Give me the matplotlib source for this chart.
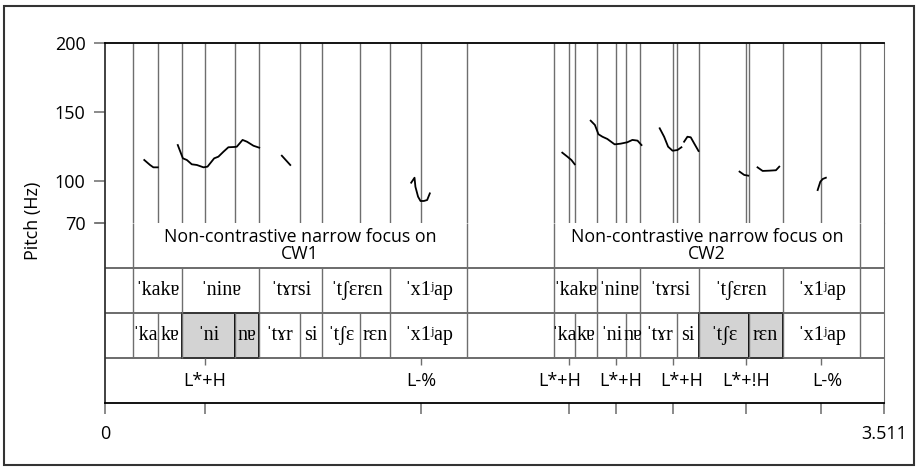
import matplotlib
matplotlib.use("Agg")
import matplotlib.pyplot as plt
from matplotlib.patches import Rectangle

# total duration (s)
T_END = 3.511

# pitch track segments: time (s) and F0 (Hz)
pitch_t = [
    [0.177, 0.203, 0.218, 0.238],
    [0.328, 0.351, 0.369, 0.391, 0.414, 0.444, 0.462, 0.492, 0.511, 0.534,
     0.556, 0.582, 0.594, 0.620, 0.640, 0.669, 0.695],
    [0.797, 0.835],
    [1.380, 1.395, 1.399, 1.411, 1.422, 1.437, 1.452, 1.464],
    [2.061, 2.084, 2.102, 2.117],
    [2.189, 2.208, 2.224, 2.242, 2.264, 2.297, 2.324, 2.354, 2.377, 2.400, 2.418],
    [2.500, 2.520, 2.538, 2.558, 2.580, 2.598],
    [2.610, 2.625, 2.640, 2.655, 2.675],
    [2.860, 2.881, 2.899],
    [2.941, 2.964, 2.994, 3.024, 3.039],
    [3.212, 3.224, 3.235, 3.249],
]
pitch_hz = [
    [115.5, 111.9, 110.2, 110.2],
    [126.3, 116.7, 115.5, 112.4, 111.9, 110.2, 110.7, 116.7, 117.9, 121.5,
     124.7, 124.9, 125.1, 130.0, 128.7, 125.8, 124.4],
    [118.6, 111.9],
    [99.1, 102.7, 96.2, 89.0, 85.9, 85.9, 86.6, 91.4],
    [120.8, 117.9, 115.5, 112.4],
    [143.9, 140.8, 134.1, 132.3, 130.7, 126.8, 127.3, 128.3, 130.0, 129.5, 126.3],
    [138.4, 132.3, 125.1, 122.2, 122.7, 124.7],
    [128.7, 132.3, 131.9, 127.6, 122.0],
    [107.1, 104.7, 104.2],
    [110.2, 107.6, 107.8, 108.1, 110.7],
    [93.8, 99.8, 101.8, 102.7],
]

# interval tiers
focus_bounds = [0, 0.126, 1.631, 2.023, 3.404, T_END]
focus_labels = ["", "Non-contrastive narrow focus on\nCW1", "",
                "Non-contrastive narrow focus on\nCW2", ""]

word_bounds = [0, 0.126, 0.346, 0.695, 0.978, 1.286, 1.631,
               2.023, 2.219, 2.411, 2.678, 3.054, 3.404, T_END]
word_labels = ["", "ˈkakɐ", "ˈninɐ", "ˈtɤrsi", "ˈtʃɛrɛn", "ˈx1ʲap", "",
               "ˈkakɐ", "ˈninɐ", "ˈtɤrsi", "ˈtʃɛrɛn", "ˈx1ʲap", ""]

syll_bounds = [0, 0.126, 0.238, 0.346, 0.584, 0.695, 0.877, 0.978, 1.148, 1.286, 1.631,
               2.023, 2.117, 2.219, 2.350, 2.411, 2.580, 2.678, 2.901, 3.054, 3.404, T_END]
syll_labels = ["", "ˈka", "kɐ", "ˈni", "nɐ", "ˈtɤr", "si", "ˈtʃɛ", "rɛn", "ˈx1ʲap", "",
               "ˈka", "kɐ", "ˈni", "nɐ", "ˈtɤr", "si", "ˈtʃɛ", "rɛn", "ˈx1ʲap", ""]
focus_sylls = [3, 4, 17, 18]

# point tier
tone_times = [0.451, 1.426, 2.091, 2.302, 2.562, 2.891, 3.227]
tone_labels = ["L*+H", "L-%", "L*+H", "L*+H", "L*+H", "L*+!H", "L-%"]

SANS = ["Open Sans", "DejaVu Sans"]
SERIF = ["Liberation Serif", "DejaVu Serif"]
GRID = "#6e6e6e"

W, H = 917, 468
fig = plt.figure(figsize=(W / 100, H / 100), dpi=100)


def box(x0, y0, x1, y1):
    return [x0 / W, 1 - y1 / H, (x1 - x0) / W, (y1 - y0) / H]


# outer frame
fig.patches.append(Rectangle((3.5 / W, 1 - 465 / H), 910 / W, 459 / H,
                             transform=fig.transFigure, fill=False,
                             ec="#333333", lw=1.5))

ax_p = fig.add_axes(box(105, 43, 884, 223))
ax_t = fig.add_axes(box(105, 223, 884, 403))

# --- pitch panel ---
ax_p.set_xlim(0, T_END)
ax_p.set_ylim(70, 200)
all_lines = sorted(set(focus_bounds[1:-1] + word_bounds[1:-1] +
                       syll_bounds[1:-1] + tone_times))
ax_p.vlines(all_lines, 70, 200, color=GRID, lw=1.0)
for t, f in zip(pitch_t, pitch_hz):
    ax_p.plot(t, f, color="black", lw=1.3)

ax_p.set_xticks([])
ax_p.set_yticks([70, 100, 150, 200])
ax_p.set_yticklabels(["70", "100", "150", "200"], family=SANS, fontsize=13)
ax_p.tick_params(axis="y", direction="out", length=8, width=1.2,
                 color="#777777", pad=6)
ax_p.spines["bottom"].set_visible(False)
ax_p.spines["left"].set_color("#333333")
ax_p.spines["left"].set_linewidth(1.3)
ax_p.spines["top"].set_color("black")
ax_p.spines["top"].set_linewidth(1.3)
ax_p.spines["right"].set_color(GRID)

# --- tier panel: rows from top: focus (3-4), words (2-3), syllables (1-2), tones (0-1) ---
ax_t.set_xlim(0, T_END)
ax_t.set_ylim(0, 4)
ax_t.hlines([1, 2, 3], 0, T_END, color="#444444", lw=1.1)
ax_t.plot([-0.04, 0], [4, 4], color="#777777", lw=1.2, clip_on=False)


def draw_tier(bounds, labels, y0, **kw):
    ax_t.vlines(bounds[1:-1], y0, y0 + 1, color=GRID, lw=1.0)
    for a, b, lab in zip(bounds[:-1], bounds[1:], labels):
        if lab:
            ax_t.text((a + b) / 2, y0 + 0.5, lab, ha="center", va="center", **kw)


# shaded focus syllables
for i in focus_sylls:
    a, b = syll_bounds[i], syll_bounds[i + 1]
    ax_t.add_patch(Rectangle((a, 1), b - a, 1, fc="#d3d3d3", ec="black",
                             lw=1.3, zorder=0.5))

draw_tier(focus_bounds, focus_labels, 3, family=SANS, fontsize=12.8,
          linespacing=0.95)
draw_tier(word_bounds, word_labels, 2, family=SERIF, fontsize=14.5)
draw_tier(syll_bounds, syll_labels, 1, family=SERIF, fontsize=14.5)

# tone labels, a few nudged sideways so they do not collide
tone_nudge = [0, 0, -0.043, 0.022, 0.036, 0, 0.027]
ax_t.vlines(tone_times, 1 - 7 / 45, 1, color=GRID, lw=1.0)
for t, lab, dx in zip(tone_times, tone_labels, tone_nudge):
    ax_t.text(t + dx, 0.5, lab, ha="center", va="center", family=SANS,
              fontsize=13)

ax_t.set_yticks([])
xt = [0] + tone_times + [T_END]
ax_t.set_xticks(xt)
ax_t.set_xticklabels(["0"] + [""] * len(tone_times) + ["3.511"],
                     family=SANS, fontsize=13)
ax_t.tick_params(axis="x", direction="out", length=8, width=1.2,
                 color="#777777", pad=8)
ax_t.spines["top"].set_visible(False)
ax_t.spines["left"].set_color("#333333")
ax_t.spines["left"].set_linewidth(1.3)
ax_t.spines["bottom"].set_color("black")
ax_t.spines["bottom"].set_linewidth(1.3)
ax_t.spines["right"].set_color(GRID)

fig.text(33 / W, 1 - 221 / H, "Pitch (Hz)", rotation=90, ha="center",
         va="center", family=SANS, fontsize=13)

fig.savefig("out.png", dpi=100)
